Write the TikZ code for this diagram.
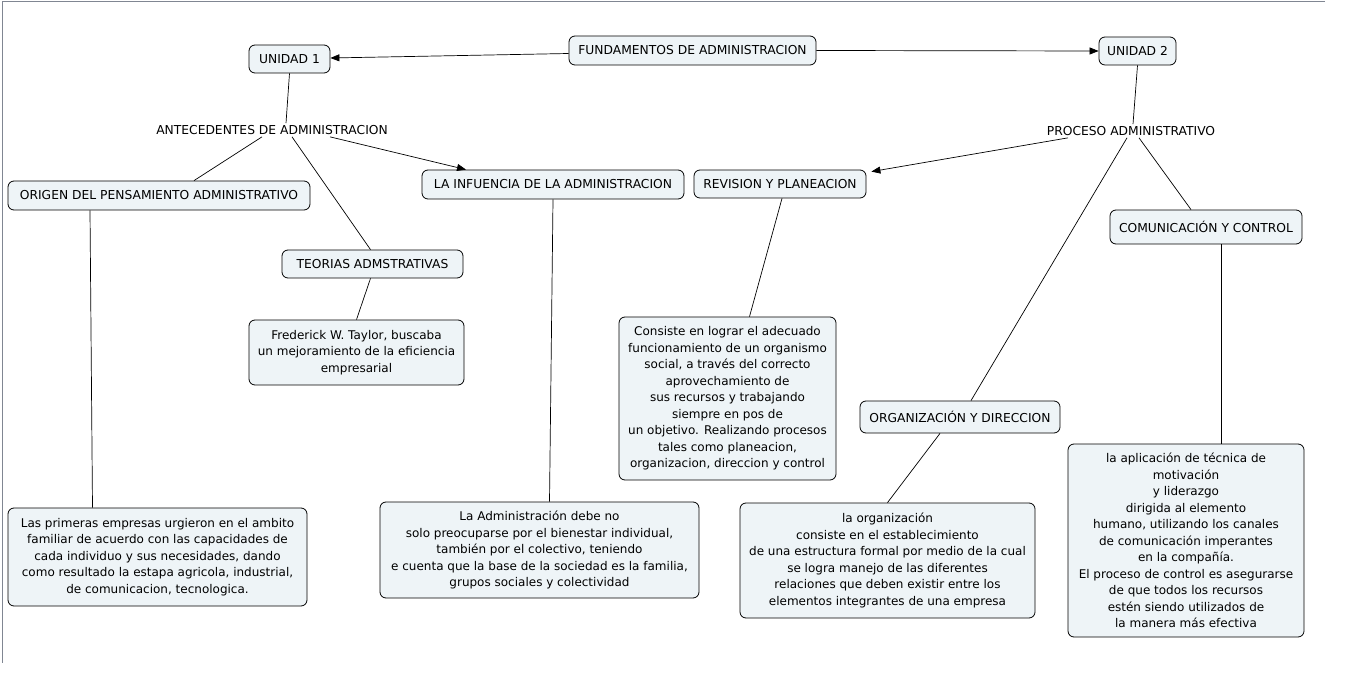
\documentclass[tikz,border=0pt]{standalone}
\usepackage{fontspec}
\setmainfont{DejaVu Sans}
\usetikzlibrary{arrows.meta, positioning, calc}
\definecolor{colFondo}{RGB}{238, 244, 247}
\definecolor{colMarco}{RGB}{128, 134, 146}

\tikzset{
    concepto/.style={draw=black, line width=0.8pt, rounded corners=6pt, fill=colFondo,
        align=center, inner sep=3pt, font=\fontsize{12}{16.5}\selectfont},
    titulo/.style={concepto, font=\fontsize{12.3}{15}\selectfont},
    etiqueta/.style={align=center, inner sep=2pt, font=\fontsize{12.3}{15}\selectfont},
    enlace/.style={line width=0.7pt, draw=black},
    flecha/.style={enlace, -{Triangle[length=9pt,width=7pt]}}
}

\begin{document}
\begin{tikzpicture}[x=1pt, y=-1pt]
    \useasboundingbox (0,0) rectangle (1360,684);
    % marco
    \draw[colMarco, line width=1.2pt] (1325,1.5) -- (2.5,1.5) -- (2.5,663);

    % --- Raiz ---
    \node[titulo, minimum width=247pt, minimum height=29pt] (fund) at (692.5, 50.5) {FUNDAMENTOS DE ADMINISTRACION};
    \node[titulo, minimum width=81pt, minimum height=28pt] (unidad1) at (289.5, 59) {UNIDAD 1};
    \node[titulo, minimum width=77pt, minimum height=28pt] (unidad2) at (1137.5, 51) {UNIDAD 2};

    % --- Unidad 1 ---
    \node[etiqueta] (antecedentes) at (272, 130) {ANTECEDENTES DE ADMINISTRACION};
    \node[titulo, minimum width=302pt, minimum height=29pt] (origen) at (159, 195.5) {ORIGEN DEL PENSAMIENTO ADMINISTRATIVO};
    \node[titulo, minimum width=181pt, minimum height=28pt] (teorias) at (372.5, 264) {TEORIAS ADMSTRATIVAS};
    \node[titulo, minimum width=262pt, minimum height=29pt] (influencia) at (553, 184.5) {LA INFUENCIA DE LA ADMINISTRACION};
    \node[concepto, minimum width=215pt, minimum height=65pt] (taylor) at (356.5, 352.5)
        {Frederick W. Taylor, buscaba\\un mejoramiento de la eficiencia\\empresarial};
    \node[concepto, minimum width=299pt, minimum height=98pt] (primeras) at (157.5, 557)
        {Las primeras empresas  urgieron en el ambito\\familiar de acuerdo con las capacidades de\\cada individuo  y sus necesidades, dando\\como resultado la estapa agricola, industrial,\\de comunicacion, tecnologica.};
    \node[concepto, minimum width=319pt, minimum height=96pt] (administracion) at (539.5, 550)
        {La Administración debe no\\solo preocuparse por el bienestar individual,\\también por el colectivo, teniendo\\e cuenta que la base de la sociedad es la familia,\\grupos sociales y colectividad};

    % --- Unidad 2 ---
    \node[etiqueta] (proceso) at (1131, 131) {PROCESO ADMINISTRATIVO};
    \node[titulo, minimum width=172pt, minimum height=28pt] (revision) at (780, 184) {REVISION Y PLANEACION};
    \node[titulo, minimum width=200pt, minimum height=32pt] (organizacion) at (960, 417) {ORGANIZACIÓN Y DIRECCION};
    \node[titulo, minimum width=192pt, minimum height=34pt] (comunicacion) at (1206, 227) {COMUNICACIÓN Y CONTROL};
    \node[concepto, minimum width=217pt, minimum height=163pt] (consiste) at (727.5, 398.5)
        {Consiste en lograr el adecuado\\funcionamiento de un organismo\\social, a través del correcto\\aprovechamiento de\\sus recursos y trabajando\\siempre en pos de\\un objetivo. Realizando procesos\\tales como planeacion,\\organizacion, direccion y control};
    \node[concepto, minimum width=295pt, minimum height=115pt] (estructura) at (887.5, 560.5)
        {la organización\\consiste en el establecimiento\\de una estructura formal por medio de la cual\\se logra manejo de las diferentes\\relaciones que deben existir entre los\\elementos integrantes de una empresa};
    \node[concepto, minimum width=236pt, minimum height=193pt] (tecnica) at (1186, 540.5)
        {la aplicación de técnica de\\motivación\\y liderazgo\\dirigida al elemento\\humano, utilizando los canales\\de comunicación imperantes\\en la compañía.\\El proceso de control es asegurarse\\de que todos los recursos\\estén siendo utilizados de\\la manera más efectiva};

    % --- Enlaces ---
    \draw[flecha] ([yshift=-3pt]fund.west) -- ([yshift=1pt]unidad1.east);
    \draw[flecha] (fund.east) -- (unidad2.west);
    \draw[enlace] (unidad1.south) -- ([xshift=14pt]antecedentes.north);
    \draw[enlace] ([xshift=-10pt]antecedentes.south) -- ([xshift=35pt]origen.north);
    \draw[enlace] ([xshift=20pt]antecedentes.south) -- ([xshift=-2pt]teorias.north);
    \draw[flecha] ([xshift=58pt]antecedentes.south) -- ([xshift=-87pt]influencia.north);
    \draw[enlace] ([xshift=-69pt]origen.south) -- ([xshift=-65pt]primeras.north);
    \draw[enlace] ([xshift=-2pt]teorias.south) -- (taylor.north);
    \draw[enlace] (influencia.south) -- ([xshift=10pt]administracion.north);
    \draw[enlace] (unidad2.south) -- ([xshift=2pt]proceso.north);
    \draw[flecha] ([xshift=-63pt]proceso.south) -- ([xshift=5pt,yshift=-2pt]revision.north east);
    \draw[enlace] ([xshift=-4pt]proceso.south) -- ([xshift=11pt]organizacion.north);
    \draw[enlace] ([xshift=8pt]proceso.south) -- ([xshift=-15pt]comunicacion.north);
    \draw[enlace] ([xshift=2pt]revision.south) -- ([xshift=22pt]consiste.north);
    \draw[enlace] ([xshift=-20pt]organizacion.south) -- (estructura.north);
    \draw[enlace] ([xshift=15pt]comunicacion.south) -- ([xshift=35pt]tecnica.north);
\end{tikzpicture}
\end{document}
